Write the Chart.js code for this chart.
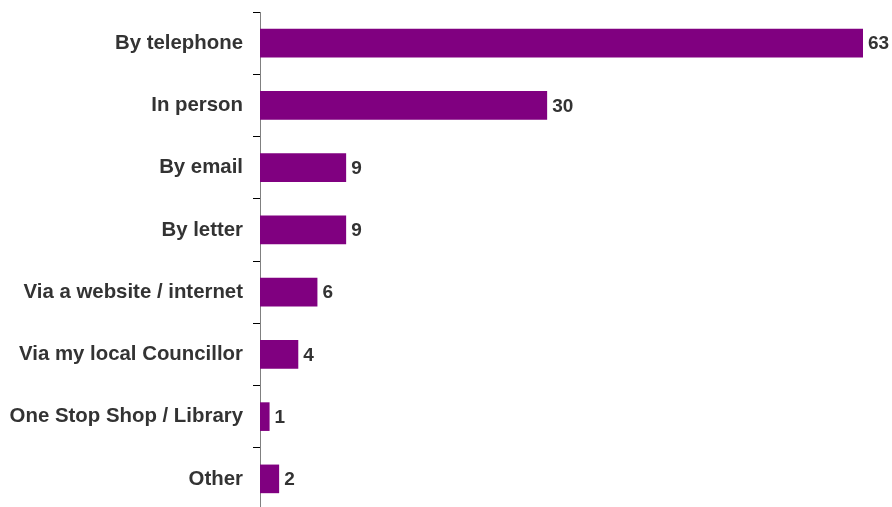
<!DOCTYPE html>
<html>
<head>
<meta charset="utf-8">
<script src="https://cdn.jsdelivr.net/npm/chart.js@4/dist/chart.umd.min.js"></script>
<style>
  html, body { margin: 0; padding: 0; background: #fff; overflow: hidden; }
  #wrap { position: relative; width: 892px; height: 510px; }
</style>
</head>
<body>
<div id="wrap"><canvas id="chart"></canvas></div>
<script>
const categories = [
    'By telephone',
    'In person',
    'By email',
    'By letter',
    'Via a website / internet',
    'Via my local Councillor',
    'One Stop Shop / Library',
    'Other'
];
const counts = [63, 30, 9, 9, 6, 4, 1, 2];

// writes the count just past the end of each bar
const valueLabels = {
    id: 'valueLabels',
    afterDatasetsDraw(chart) {
        const ctx = chart.ctx;
        const meta = chart.getDatasetMeta(0);
        ctx.save();
        ctx.font = 'bold 19px "Liberation Sans", Arial, sans-serif';
        ctx.fillStyle = '#333333';
        ctx.textAlign = 'left';
        ctx.textBaseline = 'middle';
        meta.data.forEach((bar, i) => {
            ctx.fillText(String(counts[i]), bar.x + 5, bar.y + 1);
        });
        ctx.restore();
    }
};

const data = {
    labels: categories,
    datasets: [
        {
            data: counts,
            backgroundColor: '#800080',
            borderWidth: 0,
            categoryPercentage: 1,
            barPercentage: 0.46
        }
    ]
};

const options = {
    indexAxis: 'y',
    responsive: true,
    maintainAspectRatio: false,
    animation: false,
    layout: {
        padding: { top: 12, right: 29, bottom: 0, left: 0 }
    },
    plugins: {
        legend: { display: false },
        tooltip: { enabled: false }
    },
    scales: {
        x: {
            display: false,
            min: 0,
            max: 63
        },
        y: {
            afterFit: (scale) => {
                scale.width = 260;
                scale.paddingTop = 0;
                scale.paddingBottom = 0;
            },
            grid: {
                drawOnChartArea: false,
                drawTicks: true,
                tickLength: 7,
                color: '#000000',
                lineWidth: 1
            },
            border: { color: '#808080', width: 1 },
            ticks: {
                padding: 10,
                color: '#333333',
                font: { family: '"Liberation Sans", Arial, sans-serif', size: 20.4, weight: 'bold' }
            }
        }
    }
};

new Chart(document.getElementById('chart').getContext('2d'), {
    type: 'bar',
    data: data,
    options: options,
    plugins: [valueLabels]
});
</script>
</body>
</html>
